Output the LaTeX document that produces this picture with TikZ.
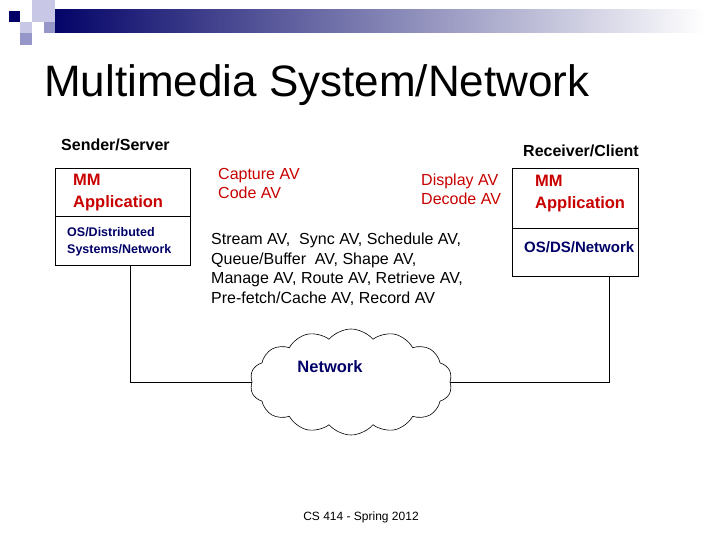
\documentclass[tikz,border=0pt]{standalone}
\usepackage{fontspec}
\setmainfont{Liberation Sans}
\usetikzlibrary{shapes.symbols}
\definecolor{navy}{RGB}{0,0,102}
\definecolor{mmred}{RGB}{200,0,0}
\definecolor{sq1}{RGB}{150,150,200}
\definecolor{sq2}{RGB}{200,200,230}
\begin{document}
\begin{tikzpicture}[x=1pt,y=-1pt,
  box/.style={draw,line width=0.6pt},
  lbl/.style={anchor=north west,inner sep=0pt,align=left},
  wire/.style={line width=0.6pt}]
\useasboundingbox (0,0) rectangle (720,540);
% header decoration
\shade[left color=navy,right color=white] (44,10) rectangle (705,33);
\fill[sq2] (32,0) rectangle (55,22);
\fill[sq1] (44,22) rectangle (55,33);
\fill[sq2] (20,22) rectangle (32,33);
\fill[sq1] (20,33) rectangle (32,45);
\fill[navy] (9,11) rectangle (20,22);
\node[lbl,font=\fontsize{44}{48}\selectfont] (title) at (44,64) {Multimedia System/Network};
\node[lbl,font=\bfseries\fontsize{16}{19}\selectfont] (snd) at (61,139) {Sender/Server};
\node[lbl,font=\bfseries\fontsize{16}{19}\selectfont] (rcv) at (523,145) {Receiver/Client};
% left box
\draw[box] (55,168) rectangle (190,265);
\draw[box] (55,216) -- (190,216);
\node[lbl,text=mmred,font=\bfseries\fontsize{16.5}{22}\selectfont] (lmm) at (73,174) {MM\\Application};
\node[lbl,text=navy,font=\bfseries\fontsize{12.5}{17}\selectfont] (los) at (67,227) {OS/Distributed\\Systems/Network};
% right box
\draw[box] (512,168) rectangle (638,276);
\draw[box] (512,228) -- (638,228);
\node[lbl,text=mmred,font=\bfseries\fontsize{16.5}{22}\selectfont] (rmm) at (535,175) {MM\\Application};
\node[lbl,text=navy,font=\bfseries\fontsize{15}{17}\selectfont] (ros) at (524,241) {OS/DS/Network};
% middle texts
\node[lbl,text=mmred,font=\fontsize{16}{19}\selectfont] (cap) at (218,168) {Capture AV\\Code AV};
\node[lbl,text=mmred,font=\fontsize{16}{19}\selectfont] (dis) at (421,174) {Display AV\\Decode AV};
\node[lbl,font=\fontsize{16}{19.5}\selectfont] (ops) at (211,233) {Stream AV,\ \ Sync AV, Schedule AV,\\Queue/Buffer\ \ AV, Shape AV,\\Manage AV, Route AV, Retrieve AV,\\Pre-fetch/Cache AV, Record AV};
% cloud
\node[cloud,draw,cloud puffs=14,cloud puff arc=100,aspect=1.9,minimum width=202pt,minimum height=106pt,line width=0.6pt] (net) at (351,382) {};
\node[text=navy,font=\bfseries\fontsize{16.5}{19}\selectfont] (netl) at (330,367) {Network};
\coordinate (lt) at (130,265);
\coordinate (rt) at (609,276);
\draw[wire] (lt) |- (net.west);
\draw[wire] (net.east) -| (rt);
\node[font=\fontsize{12}{14}\selectfont] (foot) at (361,517) {CS 414 - Spring 2012};
\end{tikzpicture}
\end{document}
